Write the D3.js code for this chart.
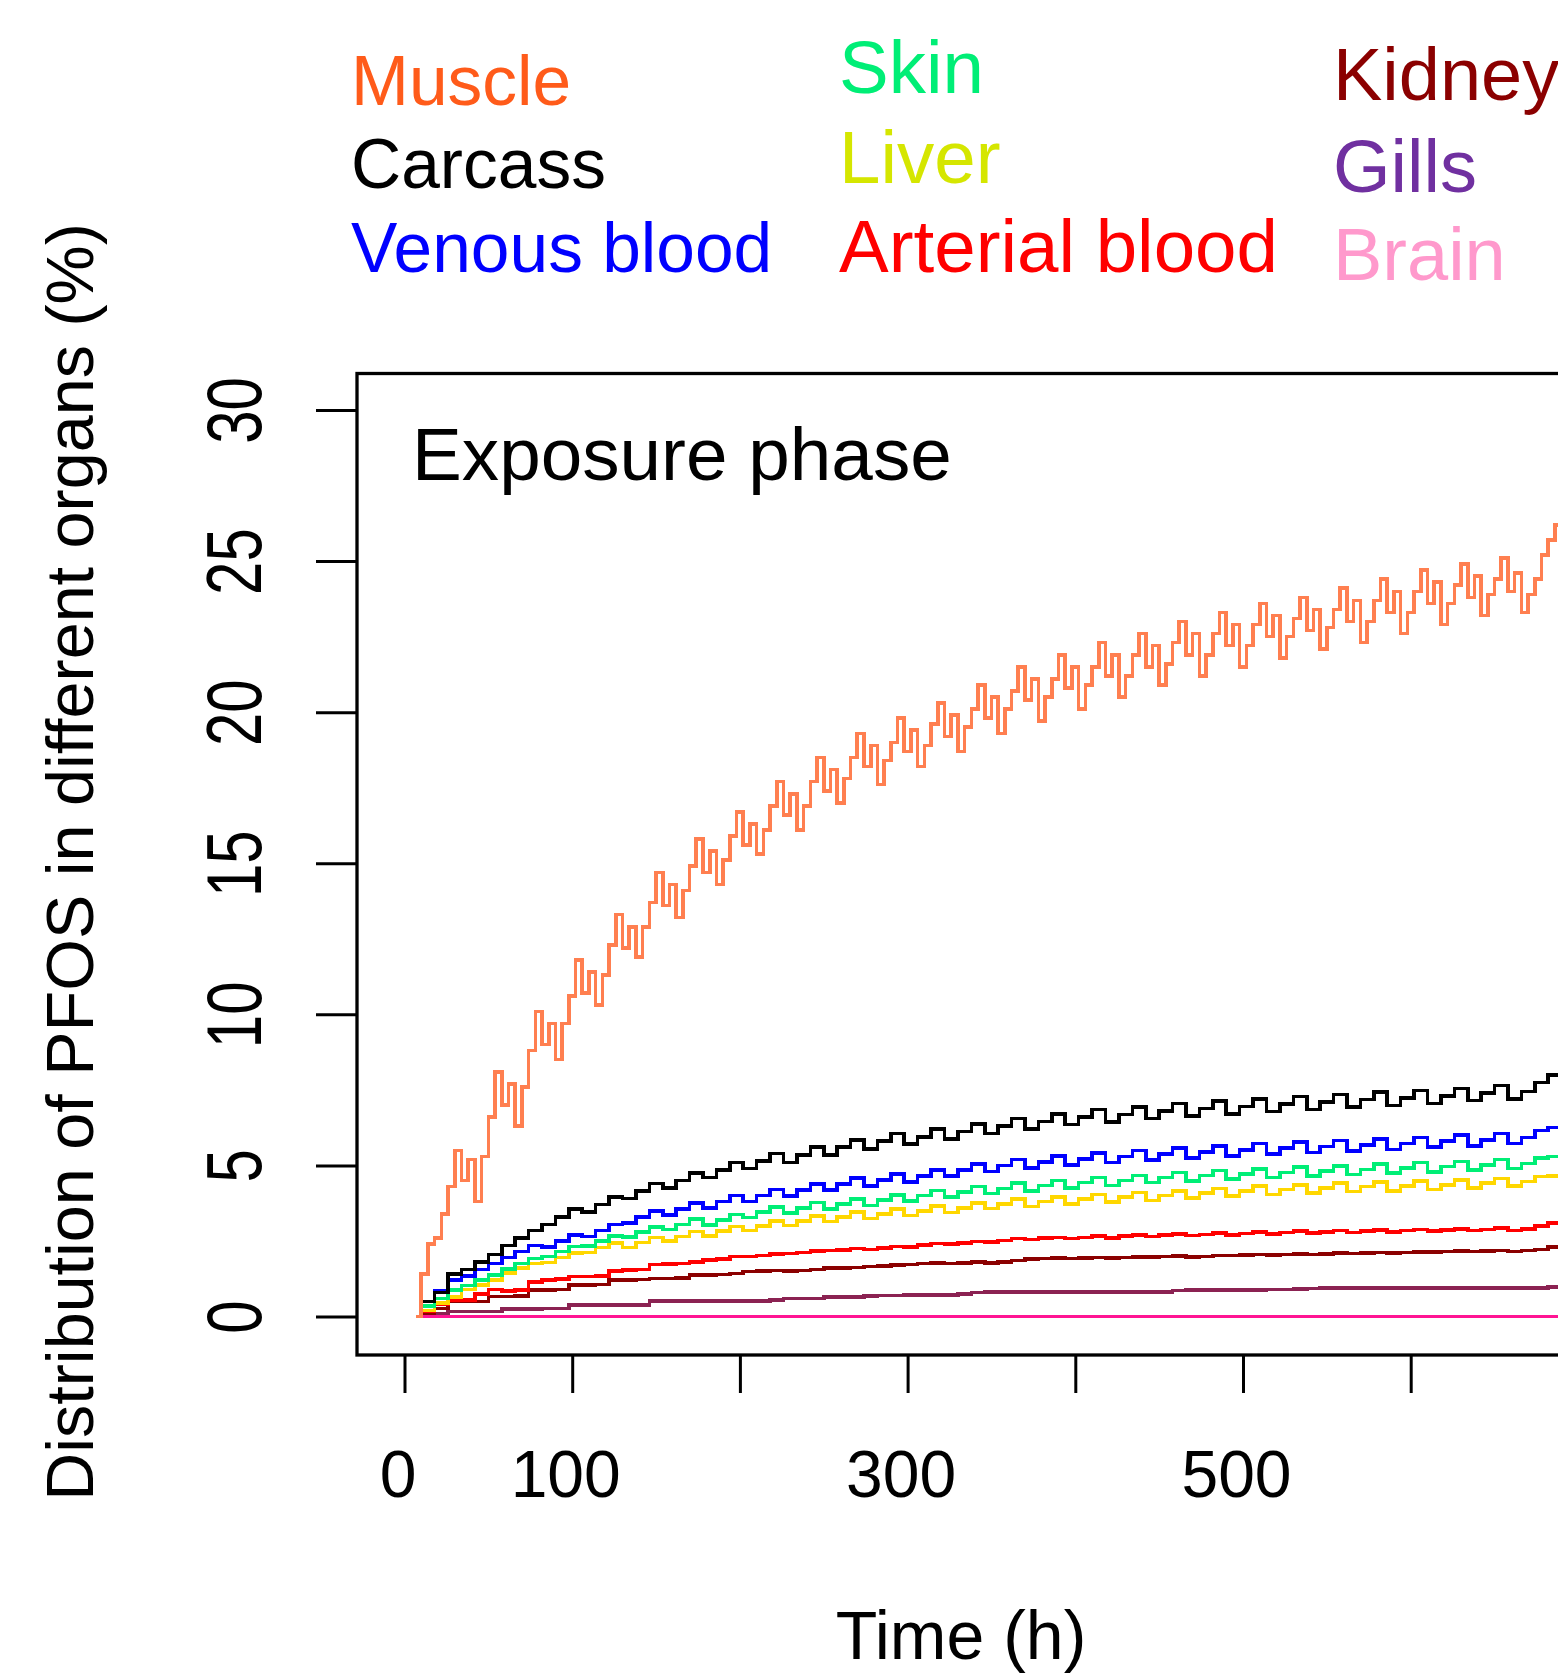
<!DOCTYPE html>
<html lang="en">
<head>
<meta charset="UTF-8">
<title>PFOS distribution</title>
<script src="https://d3js.org/d3.v7.min.js"></script>
<style>
body { margin: 0; background: #fff; }
svg { display: block; font-family: "Liberation Sans", Arial, sans-serif; }
</style>
</head>
<body>
<div id="container"></div>
<script>
// time grids (h)
const tFine = [7, ...d3.range(10, 691, 4)];
const tCoarse = [7, ...d3.range(10, 691, 8)];
const tBrain = [7, 690];

const muscle = [0,
  1.4, 2.4, 2.6, 3.4, 4.3, 5.5,
  4.5, 5.2, 3.8, 5.3, 6.6, 8.1,
  7.0, 7.7, 6.3, 7.6, 8.8, 10.1,
  9.0, 9.7, 8.5, 9.7, 10.6, 11.8,
  10.7, 11.4, 10.3, 11.3, 12.3, 13.3,
  12.2, 12.9, 11.9, 12.9, 13.7, 14.7,
  13.6, 14.3, 13.2, 14.1, 14.9, 15.8,
  14.7, 15.4, 14.3, 15.1, 15.9, 16.7,
  15.6, 16.3, 15.3, 16.1, 16.9, 17.7,
  16.6, 17.3, 16.1, 16.9, 17.7, 18.5,
  17.4, 18.1, 17.0, 17.8, 18.5, 19.3,
  18.2, 18.9, 17.6, 18.4, 19.0, 19.8,
  18.7, 19.4, 18.2, 18.9, 19.6, 20.3,
  19.2, 19.9, 18.7, 19.5, 20.1, 20.9,
  19.8, 20.5, 19.3, 20.1, 20.7, 21.5,
  20.4, 21.1, 19.7, 20.5, 21.1, 21.9,
  20.8, 21.5, 20.1, 20.9, 21.5, 22.3,
  21.2, 21.9, 20.5, 21.2, 21.9, 22.6,
  21.5, 22.2, 20.9, 21.6, 22.3, 23.0,
  21.9, 22.6, 21.2, 21.9, 22.6, 23.3,
  22.2, 22.9, 21.5, 22.2, 22.9, 23.6,
  22.5, 23.2, 21.8, 22.5, 23.1, 23.8,
  22.7, 23.4, 22.1, 22.8, 23.4, 24.1,
  23.0, 23.7, 22.3, 23.0, 23.7, 24.4,
  23.3, 24.0, 22.6, 23.3, 24.0, 24.7,
  23.6, 24.3, 22.9, 23.6, 24.2, 24.9,
  23.8, 24.5, 23.2, 23.9, 24.4, 25.1,
  24.0, 24.6, 23.3, 23.9, 24.4, 25.2,
  25.7, 26.2, 26.6];

const carcass = [0, 0.5, 0.8, 1.4,
  1.55, 1.8, 2.05, 2.35, 2.6, 2.85, 3.05, 3.3, 3.55, 3.45, 3.7, 3.95,
  3.9, 4.15, 4.4, 4.25, 4.5, 4.75, 4.6, 4.85, 5.1, 4.9, 5.15, 5.4,
  5.1, 5.35, 5.6, 5.35, 5.6, 5.85, 5.55, 5.8, 6.05, 5.7, 5.95, 6.2,
  5.87, 6.12, 6.37, 6.05, 6.3, 6.55, 6.2, 6.45, 6.7, 6.35, 6.6, 6.85,
  6.43, 6.68, 6.93, 6.55, 6.8, 7.05, 6.63, 6.88, 7.13, 6.7, 6.95, 7.2,
  6.78, 7.03, 7.28, 6.85, 7.1, 7.35, 6.93, 7.18, 7.43, 6.98, 7.23, 7.48,
  7.05, 7.3, 7.55, 7.15, 7.4, 7.65, 7.2, 7.45, 7.75,
  8.0, 8.35];

const venousBlood = [0, 0.5, 0.85, 1.2,
  1.35, 1.55, 1.75, 1.95, 2.15, 2.35, 2.3, 2.5, 2.7, 2.65, 2.85, 3.05,
  3.1, 3.3, 3.5, 3.35, 3.55, 3.75, 3.6, 3.8, 4.0, 3.8, 4.0, 4.2,
  3.98, 4.18, 4.38, 4.18, 4.38, 4.58, 4.32, 4.52, 4.72, 4.45, 4.65, 4.85,
  4.65, 4.85, 5.05, 4.8, 5.0, 5.2, 4.92, 5.12, 5.32, 5.02, 5.22, 5.42,
  5.1, 5.3, 5.5, 5.18, 5.38, 5.58, 5.25, 5.45, 5.65, 5.32, 5.52, 5.72,
  5.38, 5.58, 5.78, 5.43, 5.63, 5.83, 5.48, 5.68, 5.88, 5.53, 5.73, 5.93,
  5.6, 5.8, 6.0, 5.65, 5.85, 6.05, 5.72, 5.92, 6.15,
  6.25, 6.45];

const skin = [0, 0.35, 0.6, 0.88,
  1.03, 1.2, 1.37, 1.58, 1.75, 1.92, 1.98, 2.15, 2.32, 2.33, 2.5, 2.67,
  2.63, 2.8, 2.97, 2.88, 3.05, 3.22, 3.03, 3.2, 3.37, 3.28, 3.45, 3.62,
  3.43, 3.6, 3.77, 3.55, 3.72, 3.89, 3.68, 3.85, 4.02, 3.83, 4.0, 4.17,
  3.96, 4.13, 4.3, 4.07, 4.24, 4.41, 4.16, 4.33, 4.5, 4.26, 4.43, 4.6,
  4.33, 4.5, 4.67, 4.43, 4.6, 4.77, 4.49, 4.66, 4.83, 4.55, 4.72, 4.89,
  4.6, 4.77, 4.94, 4.65, 4.82, 4.99, 4.7, 4.87, 5.04, 4.75, 4.92, 5.09,
  4.79, 4.96, 5.13, 4.85, 5.02, 5.19, 4.9, 5.07, 5.25,
  5.3, 5.5];

const liver = [0, 0.2, 0.45, 0.65,
  0.89, 1.05, 1.21, 1.44, 1.6, 1.76, 1.79, 1.95, 2.11, 2.12, 2.28, 2.44,
  2.29, 2.45, 2.61, 2.49, 2.65, 2.81, 2.66, 2.82, 2.98, 2.84, 3.0, 3.16,
  3.01, 3.17, 3.33, 3.14, 3.3, 3.46, 3.24, 3.4, 3.56, 3.34, 3.5, 3.66,
  3.44, 3.6, 3.76, 3.57, 3.73, 3.89, 3.64, 3.8, 3.96, 3.72, 3.88, 4.04,
  3.79, 3.95, 4.11, 3.84, 4.0, 4.16, 3.92, 4.08, 4.24, 3.99, 4.15, 4.31,
  4.04, 4.2, 4.36, 4.09, 4.25, 4.41, 4.14, 4.3, 4.46, 4.16, 4.32, 4.48,
  4.2, 4.36, 4.52, 4.25, 4.41, 4.57, 4.31, 4.47, 4.63,
  4.65, 4.85];

const arterialBlood = [0, 0.16, 0.4, 0.55,
  0.55, 0.75, 0.9, 0.85, 0.88, 1.15, 1.2, 1.25, 1.32, 1.32, 1.35, 1.5,
  1.54, 1.56, 1.72, 1.74, 1.76, 1.8, 1.87, 1.9, 1.98, 1.98, 2.02, 2.06,
  2.08, 2.12, 2.16, 2.18, 2.2, 2.25, 2.22, 2.26, 2.32, 2.3, 2.36, 2.42,
  2.4, 2.44, 2.48, 2.46, 2.52, 2.58, 2.55, 2.6, 2.62, 2.58, 2.62, 2.66,
  2.6, 2.66, 2.7, 2.65, 2.7, 2.74, 2.68, 2.72, 2.76, 2.7, 2.75, 2.8,
  2.74, 2.78, 2.82, 2.76, 2.8, 2.84, 2.78, 2.82, 2.86, 2.8, 2.84, 2.88,
  2.82, 2.86, 2.9, 2.84, 2.88, 2.92, 2.85, 2.9, 3.0,
  3.1, 3.25];

const kidney = [0, 0.1, 0.27, 0.49,
  0.49, 0.5, 0.66, 0.66, 0.68, 0.88, 0.88, 0.9, 1.04, 1.04, 1.06, 1.21,
  1.21, 1.23, 1.26, 1.26, 1.28, 1.37, 1.37, 1.39, 1.42, 1.49, 1.5, 1.52,
  1.5, 1.52, 1.55, 1.6, 1.6, 1.62, 1.65, 1.68, 1.7, 1.72, 1.75, 1.78,
  1.76, 1.78, 1.8, 1.78, 1.8, 1.85, 1.9, 1.92, 1.93, 1.92, 1.93, 1.95,
  1.93, 1.95, 1.97, 1.96, 1.98, 2.0, 1.97, 1.99, 2.02, 2.02, 2.04, 2.05,
  2.03, 2.05, 2.06, 2.05, 2.07, 2.1, 2.08, 2.1, 2.12, 2.1, 2.12, 2.14,
  2.13, 2.15, 2.17, 2.15, 2.17, 2.18, 2.15, 2.18, 2.22,
  2.3, 2.38];

const gills = [0, 0.1, 0.1, 0.16,
  0.16, 0.16, 0.16, 0.25, 0.25, 0.25, 0.27, 0.27, 0.39, 0.39, 0.39, 0.39,
  0.39, 0.39, 0.51, 0.51, 0.51, 0.51, 0.51, 0.51, 0.51, 0.51, 0.51, 0.55,
  0.6, 0.6, 0.6, 0.65, 0.65, 0.65, 0.68, 0.7, 0.7, 0.72, 0.72, 0.72,
  0.72, 0.75, 0.8, 0.82, 0.82, 0.82, 0.82, 0.82, 0.82, 0.82, 0.82, 0.82,
  0.82, 0.82, 0.82, 0.82, 0.82, 0.86, 0.88, 0.88, 0.88, 0.88, 0.88, 0.88,
  0.9, 0.9, 0.92, 0.93, 0.95, 0.95, 0.95, 0.95, 0.95, 0.95, 0.95, 0.95,
  0.95, 0.95, 0.95, 0.95, 0.95, 0.95, 0.95, 0.95, 0.95,
  0.97, 0.97];

const brain = [0, 0];

// legend entries, column by column
const legendNames = ["Muscle", "Carcass", "Venous blood", "Skin", "Liver", "Arterial blood", "Kidney", "Gills", "Brain"];
const legendColors = ["#FF5B1A", "#000000", "#0000FF", "#00EE76", "#D5E600", "#FF0000", "#8B0000", "#7030A0", "#FF99CC"];

const yTicks = [0, 5, 10, 15, 20, 25, 30];
const xTicks = [0, 100, 200, 300, 400, 500, 600, 700];
const xTickLabels = [0, 100, 300, 500];

const width = 1558;
const height = 1673;

const svg = d3.select("#container")
  .append("svg")
  .attr("width", width)
  .attr("height", height);

svg.append("rect").attr("width", width).attr("height", height).attr("fill", "#fff");

// scales
const x = d3.scaleLinear().domain([0, 600]).range([404.5, 1410.7]);
const y = d3.scaleLinear().domain([0, 30]).range([1316.5, 410]);

const boxLeft = 357, boxTop = 373.5, boxBottom = 1355;

// series, drawn back to front
const series = [
  { t: tBrain, v: brain, color: "#FF1493" },
  { t: tCoarse, v: gills, color: "#8B2252" },
  { t: tCoarse, v: kidney, color: "#8B0000" },
  { t: tCoarse, v: arterialBlood, color: "#FF0000" },
  { t: tCoarse, v: liver, color: "#FFD700" },
  { t: tCoarse, v: skin, color: "#00EE76" },
  { t: tCoarse, v: venousBlood, color: "#0000FF" },
  { t: tCoarse, v: carcass, color: "#000000" },
  { t: tFine, v: muscle, color: "#FF7F50" }
];

const line = d3.line()
  .x(d => x(d[0]))
  .y(d => y(d[1]))
  .curve(d3.curveStepAfter);

svg.append("g")
  .selectAll("path")
  .data(series)
  .join("path")
  .attr("d", s => line(d3.zip(s.t, s.v)))
  .attr("fill", "none")
  .attr("stroke", s => s.color)
  .attr("stroke-width", 3.6)
  .attr("shape-rendering", "crispEdges");

// plot frame
svg.append("rect")
  .attr("x", boxLeft)
  .attr("y", boxTop)
  .attr("width", width + 100 - boxLeft)
  .attr("height", boxBottom - boxTop)
  .attr("fill", "none")
  .attr("stroke", "#000")
  .attr("stroke-width", 3.3);

// y axis
const yAxis = svg.append("g")
  .attr("transform", `translate(${boxLeft},0)`)
  .call(d3.axisLeft(y).tickValues(yTicks).tickSize(41).tickFormat(d3.format("d")));
yAxis.select(".domain").remove();
yAxis.selectAll(".tick line").attr("stroke", "#000").attr("stroke-width", 3);
yAxis.selectAll(".tick text")
  .attr("x", null).attr("dy", null)
  .attr("fill", "#000")
  .attr("font-family", "'Liberation Sans', Arial, sans-serif")
  .attr("font-size", 60)
  .attr("text-anchor", "middle")
  .attr("transform", `translate(${261 - boxLeft},0) rotate(-90) scale(1,1.3)`);

// x axis
const xAxis = svg.append("g")
  .attr("transform", `translate(0,${boxBottom})`)
  .call(d3.axisBottom(x).tickValues(xTicks).tickSize(38)
    .tickFormat(d => xTickLabels.includes(d) ? d : ""));
xAxis.select(".domain").remove();
xAxis.selectAll(".tick line").attr("stroke", "#000").attr("stroke-width", 3);
xAxis.selectAll(".tick text")
  .attr("dy", null)
  .attr("dx", -7)
  .attr("y", 1497 - boxBottom)
  .attr("fill", "#000")
  .attr("font-family", "'Liberation Sans', Arial, sans-serif")
  .attr("font-size", 66);

// axis titles
svg.append("text")
  .attr("transform", "translate(93,862) rotate(-90)")
  .attr("text-anchor", "middle")
  .attr("font-size", 66.5)
  .text("Distribution of PFOS in different organs (%)");

svg.append("text")
  .attr("x", 961)
  .attr("y", 1659)
  .attr("text-anchor", "middle")
  .attr("font-size", 68)
  .text("Time (h)");

svg.append("text")
  .attr("x", 412)
  .attr("y", 480)
  .attr("font-size", 74.7)
  .text("Exposure phase");

// legend: three columns of three
const legendX = [351, 839, 1333];
const legendY = [[105, 188, 272], [93, 183, 272], [100, 192, 280]];
const legendSize = [69.5, 74.5, 74];

svg.append("g")
  .selectAll("text")
  .data(legendNames)
  .join("text")
  .attr("x", (d, i) => legendX[Math.floor(i / 3)])
  .attr("y", (d, i) => legendY[Math.floor(i / 3)][i % 3])
  .attr("font-size", (d, i) => legendSize[Math.floor(i / 3)])
  .attr("fill", (d, i) => legendColors[i])
  .text(d => d);
</script>
</body>
</html>
